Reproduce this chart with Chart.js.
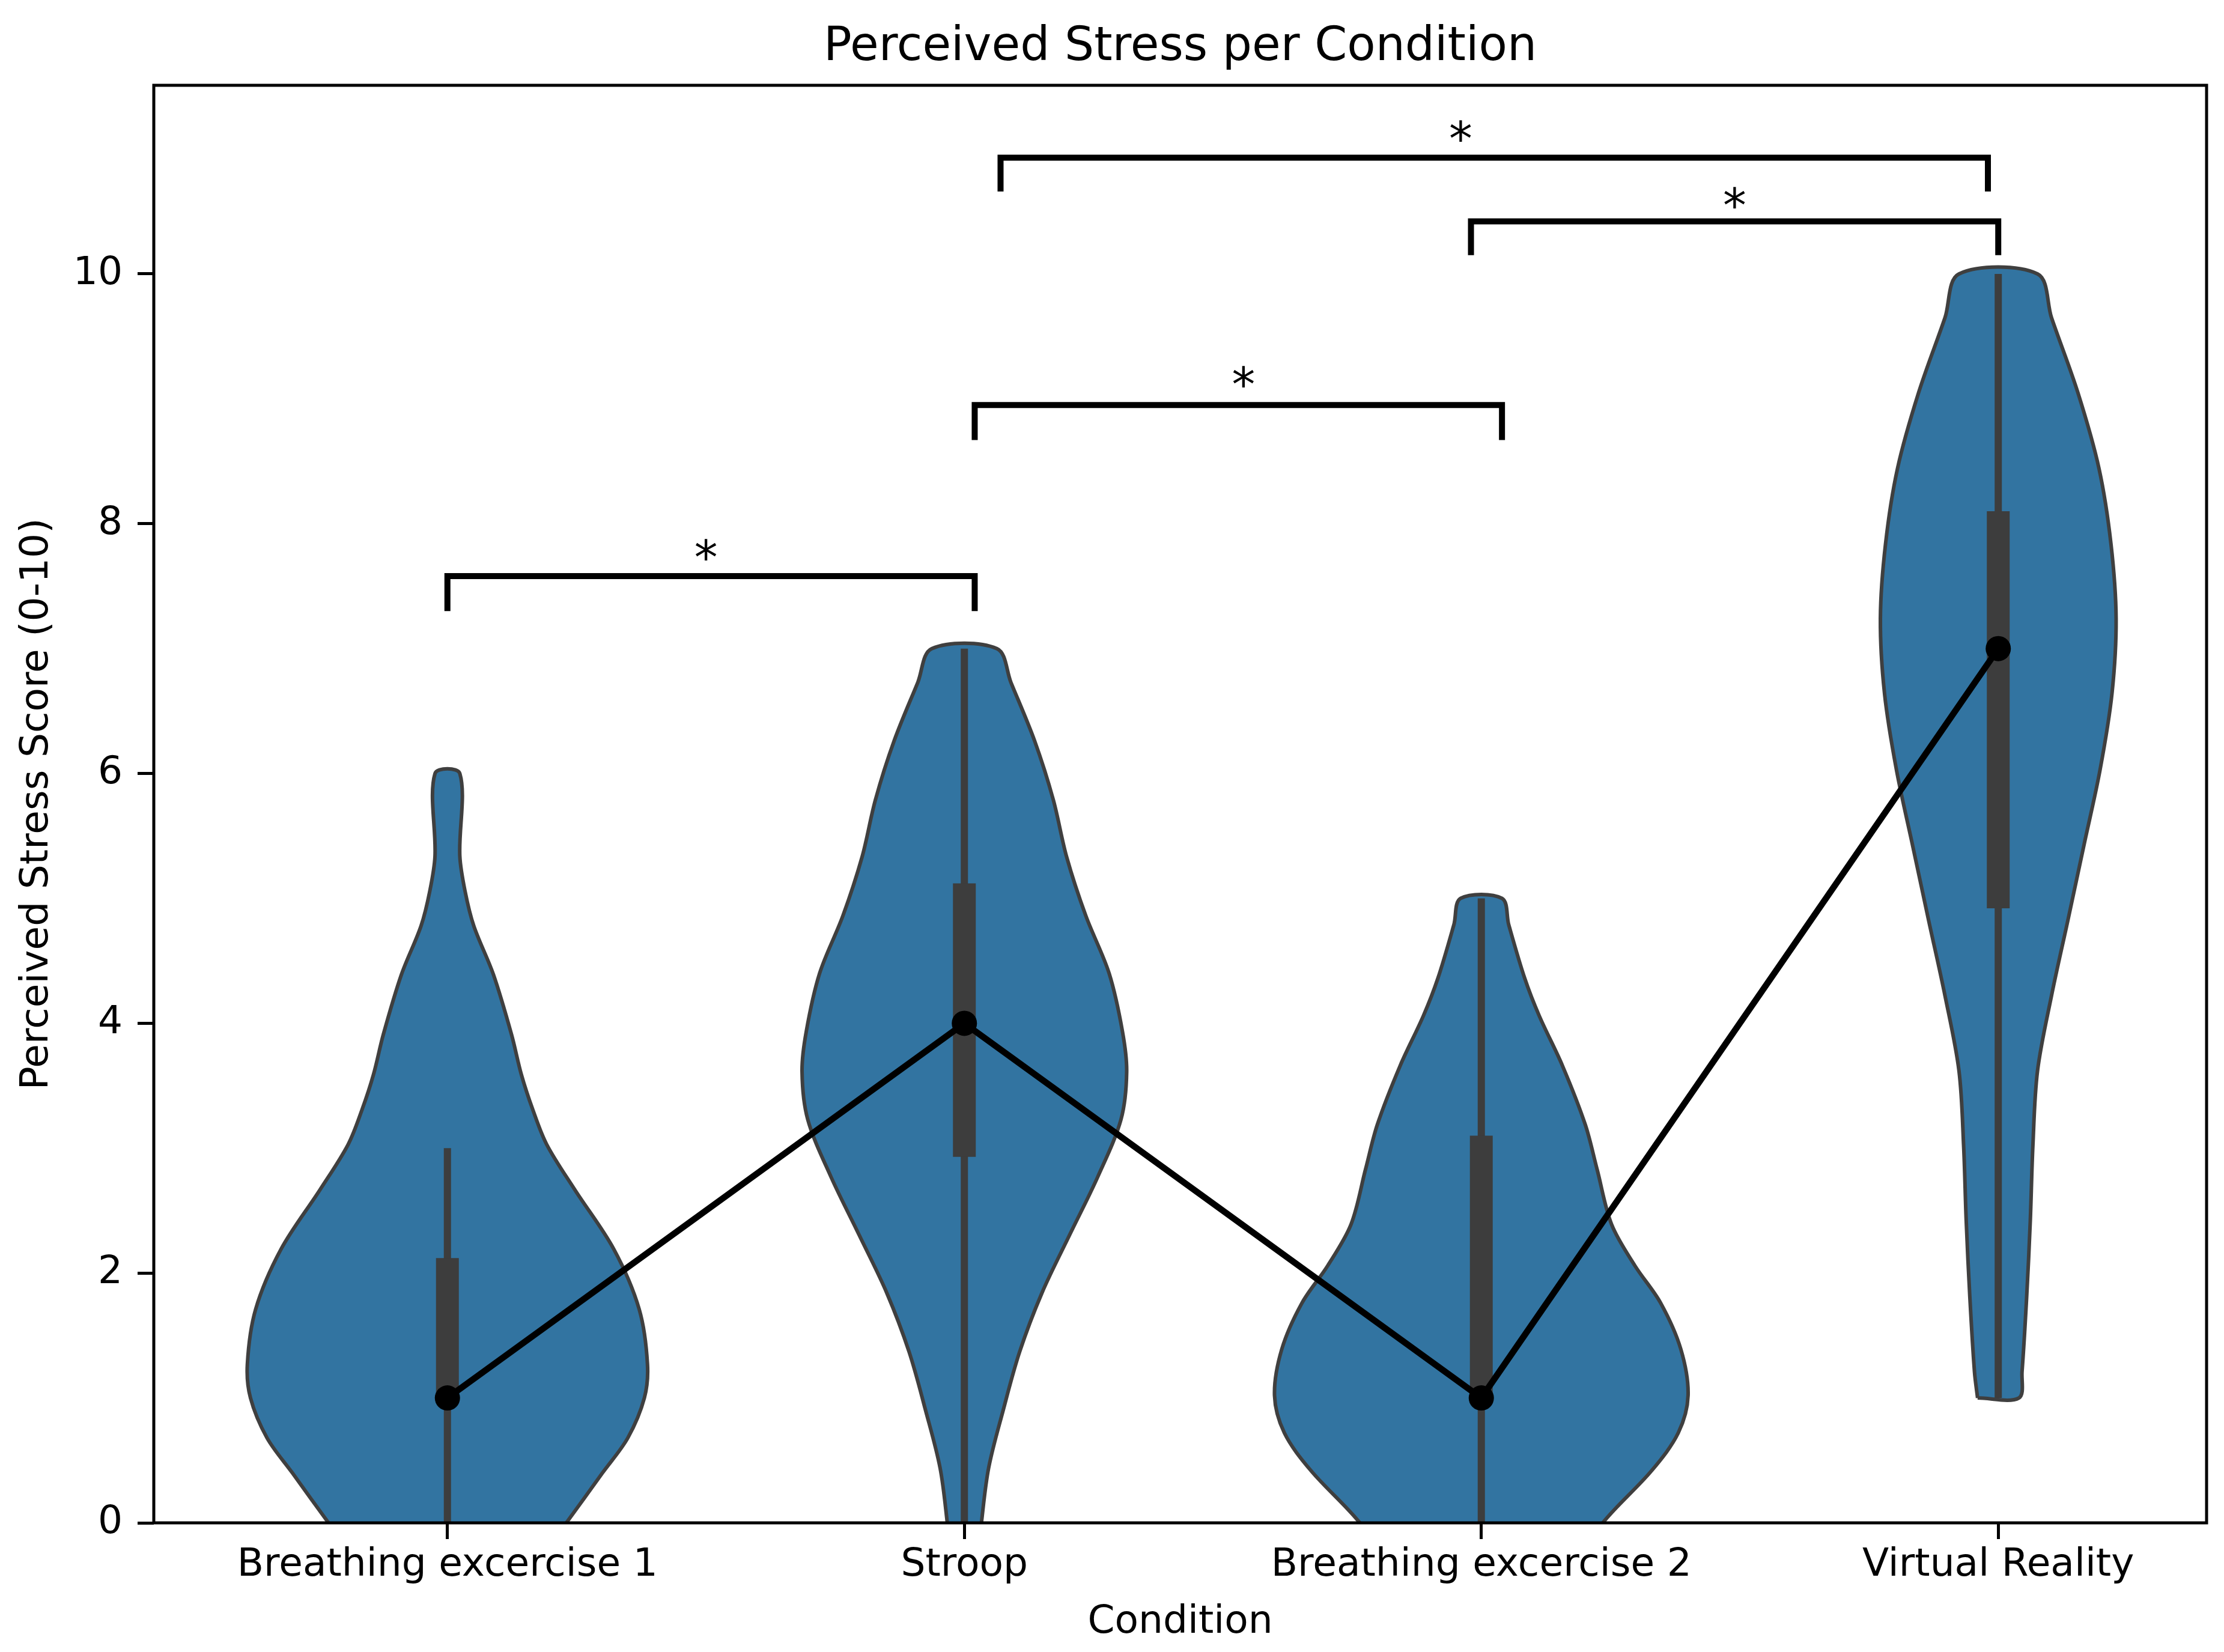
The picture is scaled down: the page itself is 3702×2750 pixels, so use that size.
<!DOCTYPE html>
<html><head><meta charset="utf-8">
<script src="https://cdn.jsdelivr.net/npm/chart.js@4.4.1/dist/chart.umd.min.js"></script>
<style>html,body{margin:0;padding:0;background:#fff;}#wrap{width:3702px;height:2750px;}</style>
</head><body><div id="wrap"><canvas id="c" width="3702" height="2750"></canvas></div>
<script>
// ---- data ----
const categories = ['Breathing excercise 1', 'Stroop', 'Breathing excercise 2', 'Virtual Reality'];
const yTicks = [0, 2, 4, 6, 8, 10];
const pointValues = [1, 4, 1, 7];

// violin outlines: score levels and half widths (category units)
const violin1Levels = [-0.5, 0, 0.40, 0.68, 1.0, 1.27, 1.71, 2.19, 2.67, 3.03, 3.31, 3.59, 3.91, 4.39, 4.78, 5.06, 5.34, 6.0];
const violin1Half   = [0.14, 0.230, 0.300, 0.349, 0.381, 0.387, 0.371, 0.322, 0.246, 0.192, 0.165, 0.143, 0.124, 0.089, 0.051, 0.034, 0.024, 0.024];
const violin2Levels = [-0.5, 0, 0.44, 0.90, 1.37, 1.84, 2.30, 2.77, 3.23, 3.61, 3.93, 4.40, 4.86, 5.33, 5.79, 6.26, 6.73, 7.0];
const violin2Half   = [0.02, 0.033, 0.047, 0.075, 0.107, 0.150, 0.203, 0.258, 0.303, 0.314, 0.306, 0.280, 0.235, 0.198, 0.172, 0.136, 0.090, 0.063];
const violin3Levels = [-0.5, 0, 0.42, 0.72, 1.02, 1.39, 1.76, 2.06, 2.39, 2.83, 3.19, 3.66, 4.06, 4.36, 4.79, 5.0];
const violin3Half   = [0.15, 0.235, 0.330, 0.381, 0.400, 0.386, 0.347, 0.297, 0.252, 0.224, 0.201, 0.157, 0.112, 0.084, 0.053, 0.040];
const violin4Levels = [1.0, 1.21, 1.81, 2.42, 3.02, 3.62, 4.22, 4.83, 5.43, 6.03, 6.64, 7.24, 7.84, 8.44, 9.05, 9.65, 10.0];
const violin4Half   = [0.040, 0.046, 0.055, 0.062, 0.067, 0.076, 0.103, 0.135, 0.166, 0.197, 0.220, 0.228, 0.218, 0.195, 0.154, 0.103, 0.076];

// inner box plots
const whiskerLow  = [0, 0, 0, 1];
const whiskerHigh = [3, 7, 5, 10];
const boxLow      = [1.0, 2.93, 1.0, 4.92];
const boxHigh     = [2.12, 5.12, 3.10, 8.10];

// significance brackets
const bracketLeft  = [0.0, 1.02, 1.98, 1.07];
const bracketRight = [1.02, 2.04, 3.0, 2.98];
const bracketTop   = [7.58, 8.95, 10.42, 10.93];
const bracketFoot  = [7.30, 8.67, 10.15, 10.66];
const starX = [0.50, 1.54, 2.49, 1.96];
const starY = [7.60, 8.985, 10.42, 10.95];
const starLabels = ['*', '*', '*', '*'];

// ---- build datasets ----
const FONT = 'DejaVu Sans';
const violinData = [[violin1Levels, violin1Half], [violin2Levels, violin2Half], [violin3Levels, violin3Half], [violin4Levels, violin4Half]];
function outline(c, levels, half) {
  const pts = levels.map((y, i) => ({x: c - half[i], y}));
  for (let i = levels.length - 1; i >= 0; i--) pts.push({x: c + half[i], y: levels[i]});
  pts.push({x: pts[0].x, y: pts[0].y});
  return pts;
}
const datasets = [];
violinData.forEach(([lv, hf], i) => datasets.push({
  data: outline(i, lv, hf), showLine: true, fill: 'shape', tension: 0.33,
  backgroundColor: '#3274a1', borderColor: '#3f3f3f', borderWidth: 6, pointRadius: 0, order: 10
}));
categories.forEach((c, i) => datasets.push({
  data: [{x: i, y: whiskerLow[i]}, {x: i, y: whiskerHigh[i]}], showLine: true,
  borderColor: '#3d3d3d', borderWidth: 12, pointRadius: 0, order: 9
}));
categories.forEach((c, i) => datasets.push({
  data: [{x: i, y: boxLow[i]}, {x: i, y: boxHigh[i]}], showLine: true,
  borderColor: '#3d3d3d', borderWidth: 38, pointRadius: 0, order: 8
}));
datasets.push({
  data: pointValues.map((v, i) => ({x: i, y: v})), showLine: true,
  borderColor: '#000', borderWidth: 10.5, pointRadius: 21, pointBackgroundColor: '#000',
  pointBorderWidth: 0, order: 2
});
bracketLeft.forEach((l, i) => datasets.push({
  data: [{x: l, y: bracketFoot[i]}, {x: l, y: bracketTop[i]}, {x: bracketRight[i], y: bracketTop[i]}, {x: bracketRight[i], y: bracketFoot[i]}],
  showLine: true, borderColor: '#000', borderWidth: 10, borderJoinStyle: 'miter', pointRadius: 0, order: 1
}));

const annot = {
  id: 'annot',
  afterDatasetsDraw(chart) {
    const {ctx, chartArea: a, scales: {x, y}} = chart;
    ctx.save();
    ctx.strokeStyle = '#000'; ctx.lineWidth = 5;
    ctx.strokeRect(a.left, a.top, a.right - a.left, a.bottom - a.top);
    ctx.fillStyle = '#000';
    ctx.font = '77.5px "' + FONT + '"';
    ctx.textAlign = 'center'; ctx.textBaseline = 'alphabetic';
    starLabels.forEach((t, i) => ctx.fillText(t, x.getPixelForValue(starX[i]), y.getPixelForValue(starY[i])));
    ctx.restore();
  }
};

const tickFont = {family: FONT, size: 64.6};
new Chart(document.getElementById('c'), {
  type: 'scatter',
  data: {datasets},
  plugins: [annot],
  options: {
    responsive: false, animation: false, events: [],
    layout: {padding: {left: 0, right: 29, top: 0, bottom: 0}},
    plugins: {
      legend: {display: false}, tooltip: {enabled: false},
      title: {display: true, text: 'Perceived Stress per Condition', fullSize: false,
        font: {family: FONT, size: 77.5, weight: 'normal'}, color: '#000', padding: {top: 33.5, bottom: 15.5}}
    },
    scales: {
      x: {
        type: 'linear', min: -0.568, max: 3.403,
        afterBuildTicks: s => { s.ticks = categories.map((c, i) => ({value: i})); },
        afterFit: s => { s.height = 215; },
        ticks: {callback: v => categories[v], font: tickFont, color: '#000', padding: 5, maxRotation: 0, autoSkip: false},
        grid: {drawOnChartArea: false, tickLength: 27, tickWidth: 5, tickColor: '#000'},
        border: {display: false},
        title: {display: true, text: 'Condition', font: tickFont, color: '#000', padding: {top: 0, bottom: 9.7}}
      },
      y: {
        type: 'linear', min: 0, max: 11.51,
        afterBuildTicks: s => { s.ticks = yTicks.map(v => ({value: v})); },
        afterFit: s => { s.width = 256; },
        ticks: {callback: v => String(v), font: tickFont, color: '#000', padding: 25},
        grid: {drawOnChartArea: false, tickLength: 27, tickWidth: 5, tickColor: '#000'},
        border: {display: false},
        title: {display: true, text: 'Perceived Stress Score (0-10)', font: tickFont, color: '#000', padding: {top: 23, bottom: 0}}
      }
    }
  }
});
</script></body></html>
